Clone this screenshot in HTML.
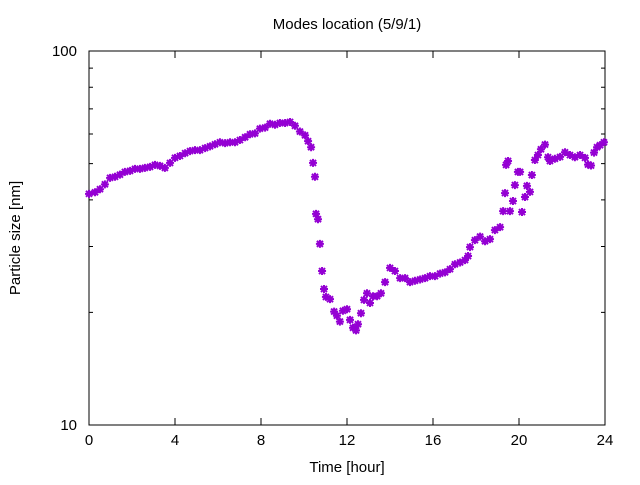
<!DOCTYPE html>
<html><head><meta charset="utf-8"><style>
body{margin:0;background:#fff}
svg text{font-family:"Liberation Sans",sans-serif;font-size:15px;fill:#000}
</style></head><body>
<svg width="640" height="480" id="c" xmlns="http://www.w3.org/2000/svg">
<text x="347" y="29" text-anchor="middle">Modes location (5/9/1)</text>
<text x="347" y="472" text-anchor="middle">Time [hour]</text>
<text transform="translate(20,238) rotate(-90)" text-anchor="middle">Particle size [nm]</text>
<rect x="89" y="51" width="516" height="374" fill="none" stroke="#000" stroke-width="1"/>
<g id="axes"></g><g id="pts"></g>
</svg>
<script>
const hours=[0,0.28,0.51,0.74,0.98,1.21,1.44,1.67,1.91,2.14,2.37,2.6,2.84,3.07,3.3,3.53,3.77,4,4.23,4.47,4.7,4.93,5.16,5.4,5.63,5.86,6.09,6.33,6.56,6.79,7.02,7.26,7.49,7.72,7.95,8.19,8.42,8.65,8.88,9.12,9.35,9.58,9.81,10.05,10.19,10.33,10.42,10.51,10.56,10.65,10.74,10.84,10.93,11.02,11.21,11.4,11.53,11.67,11.81,12,12.14,12.28,12.42,12.51,12.65,12.79,12.93,13.07,13.21,13.4,13.58,13.77,14,14.23,14.47,14.7,14.93,15.16,15.4,15.63,15.86,16.09,16.33,16.56,16.79,17.02,17.26,17.49,17.63,17.72,17.95,18.19,18.42,18.65,18.88,19.12,19.26,19.35,19.4,19.49,19.58,19.72,19.81,19.95,20.05,20.14,20.28,20.37,20.51,20.6,20.74,20.88,21.02,21.21,21.35,21.44,21.67,21.91,22.14,22.37,22.6,22.84,23.07,23.21,23.35,23.49,23.63,23.77,23.95];
const sizes=[41.5,41.9,42.7,44,45.8,46.1,46.7,47.5,47.8,48.4,48.4,48.7,49,49.6,49.3,48.7,50.2,51.8,52.4,53.3,54,54.3,54.3,55,55.6,56.3,57,56.7,57,57,57.8,58.8,59.9,60.2,62,62.4,63.9,63.5,64.2,64.2,64.6,63.1,60.9,59.5,57.4,55.3,50.2,46.1,36.7,35.5,30.5,25.8,23.1,22,21.7,20.1,19.6,18.9,20.2,20.4,19.1,18.2,17.9,18.6,19.9,21.6,22.5,21.2,22.1,22.1,22.5,24.1,26.3,25.8,24.7,24.7,24.1,24.3,24.5,24.7,25,25,25.4,25.6,26.1,26.9,27.2,27.6,28.3,29.9,31.2,31.9,31,31.4,33.2,33.8,37.3,41.7,49.6,50.8,37.3,39.7,43.8,47.5,47.5,37.1,40.7,43.6,42,46.6,51.1,52.7,54.6,56.2,52,50.8,51.5,52.1,53.6,52.7,52,52.7,51.8,49.7,49.4,53.5,55.3,56,57];
const xTicks=[0,4,8,12,16,20,24];
const yMajor=[10,100];
const yMinor=[20,30,40,50,60,70,80,90];
const X0=89,X1=605,Y0=425,Y1=51;
const xs=h=>X0+(h-0)/24*(X1-X0);
const ys=v=>Y0-(Math.log10(v)-1)*(Y0-Y1);
const NS="http://www.w3.org/2000/svg";
const ax=document.getElementById('axes'),pg=document.getElementById('pts');
function mk(t,a,p){const e=document.createElementNS(NS,t);for(const k in a)e.setAttribute(k,a[k]);p.appendChild(e);return e;}
xTicks.forEach(t=>{const x=xs(t);
 const l=mk('path',{d:`M${x},${Y0}v-7M${x},${Y1}v7`,stroke:'#000'},ax);
 
 
 const tx=mk('text',{x:x,y:Y0+20,'text-anchor':'middle'},ax);tx.textContent=t;
 
 });
yMajor.forEach(v=>{const y=ys(v);
 const l=mk('path',{d:`M${X0},${y}h9M${X1},${y}h-9`,stroke:'#000'},ax);
 
 
 const tx=mk('text',{x:X0-12,y:y+5,'text-anchor':'end'},ax);tx.textContent=v;
 
 });
yMinor.forEach(v=>{const y=ys(v);
 const l=mk('path',{d:`M${X0},${y}h4M${X1},${y}h-4`,stroke:'#000'},ax);
 
 });
hours.forEach((h,i)=>{const x=xs(h),y=ys(sizes[i]);
 const p=mk('path',{d:`M${x-4},${y}h8M${x},${y-4}v8M${x-3},${y-3}l6,6M${x-3},${y+3}l6,-6`,stroke:'#9400d3','stroke-width':2},pg);
 
 });
</script>
</body></html>
